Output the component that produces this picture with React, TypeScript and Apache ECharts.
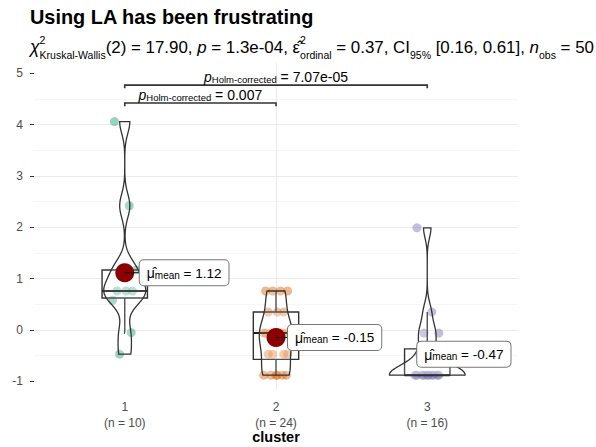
import React, { useEffect, useRef } from "react";
import * as echarts from "echarts";

// ---- data ----
const categories = ["1", "2", "3"];
const cluster1 = [4.06, 2.42, 1.17, 1.17, 0.76, 0.76, 0.76, 0.58, -0.05, -0.47];
const cluster2 = [
  0.76, 0.76, 0.76, 0.76,
  0.35, 0.35, 0.35,
  -0.06, -0.06, -0.06, -0.06, -0.06, -0.06, -0.06,
  -0.47, -0.47, -0.47, -0.47,
  -0.88, -0.88, -0.88, -0.88, -0.88, -0.88,
];
const cluster3 = [
  1.99, 0.35, -0.06, -0.06, -0.47, -0.47,
  -0.88, -0.88, -0.88, -0.88, -0.88, -0.88, -0.88, -0.88, -0.88, -0.88,
];
const groups = [cluster1, cluster2, cluster3];
const pointColors = ["#1B9E77", "#D95F02", "#7570B3"];
const yTicks = [-1, 0, 1, 2, 3, 4, 5];
const xTicks = [1, 2, 3];
const pairGroups = [[1, 3], [1, 2]];
const pairP = ["7.07e-05", "0.007"];
const pairY = [4.77, 4.42];

const titleText = "Using LA has been frustrating";
const xAxisTitle = "cluster";

// ---- stats helpers ----
const FONT = "Liberation Sans, Arial, sans-serif";
const q7 = (s: number[], p: number) => {
  const h = (s.length - 1) * p;
  const lo = Math.floor(h);
  const hi = Math.ceil(h);
  return s[lo] + (h - lo) * (s[hi] - s[lo]);
};
const meanOf = (a: number[]) => a.reduce((s, v) => s + v, 0) / a.length;
const sdOf = (a: number[]) => {
  const m = meanOf(a);
  return Math.sqrt(a.reduce((s, v) => s + (v - m) * (v - m), 0) / (a.length - 1));
};
const bwNrd0 = (a: number[]) => {
  const s = [...a].sort((x, y) => x - y);
  const hi = sdOf(a);
  const iqr = q7(s, 0.75) - q7(s, 0.25);
  let lo = Math.min(hi, iqr / 1.34);
  if (!lo) lo = hi || Math.abs(a[0]) || 1;
  return 0.9 * lo * Math.pow(a.length, -0.2);
};
const kde = (a: number[], bw: number, y: number) =>
  a.reduce((s, v) => s + Math.exp(-0.5 * ((y - v) / bw) ** 2), 0) /
  (a.length * bw * Math.sqrt(2 * Math.PI));

const stats = groups.map((vals) => {
  const s = [...vals].sort((a, b) => a - b);
  const q1 = q7(s, 0.25);
  const med = q7(s, 0.5);
  const q3 = q7(s, 0.75);
  const iqr = q3 - q1;
  const lowW = s.find((v) => v >= q1 - 1.5 * iqr) as number;
  const highW = [...s].reverse().find((v) => v <= q3 + 1.5 * iqr) as number;
  const bw = bwNrd0(vals);
  const ys: number[] = [];
  const ds: number[] = [];
  const N = 256;
  for (let k = 0; k < N; k++) {
    const y = s[0] + ((s[s.length - 1] - s[0]) * k) / (N - 1);
    ys.push(y);
    ds.push(kde(vals, bw, y));
  }
  return { q1, med, q3, lowW, highW, ys, ds, mean: meanOf(vals) };
});
const maxD = Math.max(...stats.flatMap((s) => s.ds));

const jitterPattern = [-0.8, 0.35, 0.9, -0.25, 0.6, -0.6, 0.1, -0.95, 0.5, -0.4, 0.8, 0.0];
const labelDx = [15, 12, -10];

const labelRich = {
  mu: { fontSize: 14, fontFamily: FONT, color: "#000" },
  sub: { fontSize: 10, fontFamily: FONT, color: "#000", verticalAlign: "bottom", lineHeight: 13 },
  t: { fontSize: 13.5, fontFamily: FONT, color: "#000" },
};
const pRich = {
  p: { fontSize: 14, fontFamily: FONT, fontStyle: "italic", color: "#000" },
  sub: { fontSize: 9.5, fontFamily: FONT, color: "#000", verticalAlign: "bottom", lineHeight: 12 },
  t: { fontSize: 14, fontFamily: FONT, color: "#000" },
};

const GRID = { left: 34, right: 78, top: 63, bottom: 56.9 };

export default function App() {
  const ref = useRef<HTMLDivElement>(null);
  useEffect(() => {
    if (!ref.current) return;
    const chart = echarts.init(ref.current, undefined, { renderer: "svg" });

    const pointSeries = groups.map((vals, gi) => ({
      type: "scatter",
      z: 1,
      symbolSize: 9,
      itemStyle: { color: pointColors[gi], opacity: 0.45 },
      data: vals.map((v, j) => [gi + 1 + jitterPattern[j % jitterPattern.length] * 0.085, v]),
      silent: true,
    }));

    const option: any = {
      animation: false,
      backgroundColor: "#fff",
      grid: { ...GRID, containLabel: false, outerBoundsMode: "none" },
      graphic: [
        {
          type: "text",
          left: 30,
          top: 7,
          style: { text: titleText, font: `bold 19.9px ${FONT}`, fill: "#000" },
        },
        {
          type: "text",
          left: 30,
          top: 34,
          style: {
            text:
              "{chi|χ}{sup|2}{sub|Kruskal-Wallis}{n|(2) = 17.90, }{it|p}{n| = 1.3e-04, }{eps|ε̂}{sup|2}{sub|ordinal}{n| = 0.37, CI}{sub|95%}{n| [0.16, 0.61], }{it|n}{sub|obs}{n| = 50}",
            rich: {
              n: { fontSize: 16.9, fontFamily: FONT, color: "#000", lineHeight: 26 },
              it: { fontSize: 16.9, fontFamily: FONT, fontStyle: "italic", color: "#000", lineHeight: 26 },
              chi: { fontSize: 17.5, fontFamily: FONT, fontStyle: "italic", color: "#000", lineHeight: 26 },
              eps: { fontSize: 16.9, fontFamily: FONT, color: "#000", lineHeight: 26 },
              sup: { fontSize: 10.5, fontFamily: FONT, color: "#000", verticalAlign: "top", lineHeight: 11, width: 0 },
              sub: { fontSize: 10.5, fontFamily: FONT, color: "#000", verticalAlign: "bottom", lineHeight: 13 },
            },
          },
        },
        {
          type: "text",
          x: GRID.left + (596 - GRID.left - GRID.right) / 2,
          y: 437,
          style: {
            text: xAxisTitle,
            font: `bold 14.5px ${FONT}`,
            fill: "#000",
            align: "center",
            verticalAlign: "middle",
          },
        },
      ],
      xAxis: {
        type: "value",
        min: 0.4,
        max: 3.6,
        minInterval: 1,
        maxInterval: 1,
        axisLine: { show: false },
        axisTick: { show: true, length: 4, customValues: xTicks, lineStyle: { color: "#333" } },
        axisLabel: {
          customValues: xTicks,
          margin: 9,
          fontSize: 12,
          lineHeight: 16,
          color: "#4D4D4D",
          fontFamily: FONT,
          formatter: (v: number) => `${categories[v - 1]}\n(n = ${groups[v - 1].length})`,
        },
        splitLine: { show: true, showMinLine: false, showMaxLine: false, lineStyle: { color: "#EBEBEB", width: 1 } },
      },
      yAxis: {
        type: "value",
        min: -1.17,
        max: 5.2,
        minInterval: 1,
        maxInterval: 1,
        axisLine: { show: false },
        axisTick: { show: true, length: 4, customValues: yTicks, lineStyle: { color: "#333" } },
        axisLabel: { customValues: yTicks, margin: 11, fontSize: 12, color: "#4D4D4D", fontFamily: FONT },
        splitLine: { show: true, showMinLine: false, showMaxLine: false, lineStyle: { color: "#EBEBEB", width: 1 } },
        minorTick: { show: false, splitNumber: 2 },
        minorSplitLine: { show: true, lineStyle: { color: "#F4F4F4", width: 0.8 } },
      },
      series: [
        ...pointSeries,
        {
          type: "custom",
          name: "box",
          z: 3,
          silent: true,
          data: stats.map((s, i) => [i + 1, s.med]),
          renderItem: (params: any, api: any) => {
            const i = params.dataIndex;
            const s = stats[i];
            const x = i + 1;
            const [xl, yq3] = api.coord([x - 0.15, s.q3]);
            const [xr, yq1] = api.coord([x + 0.15, s.q1]);
            const [xc, ym] = api.coord([x, s.med]);
            const yLo = api.coord([x, s.lowW])[1];
            const yHi = api.coord([x, s.highW])[1];
            const st = { stroke: "#333", lineWidth: 1.4, fill: "none" };
            return {
              type: "group",
              children: [
                { type: "line", shape: { x1: xc, y1: yq3, x2: xc, y2: yHi }, style: st },
                { type: "line", shape: { x1: xc, y1: yq1, x2: xc, y2: yLo }, style: st },
                { type: "rect", shape: { x: xl, y: yq3, width: xr - xl, height: yq1 - yq3 }, style: { ...st, fill: "rgba(255,255,255,0.2)" } },
                { type: "line", shape: { x1: xl, y1: ym, x2: xr, y2: ym }, style: { stroke: "#222", lineWidth: 2 } },
              ],
            };
          },
        },
        {
          type: "custom",
          name: "violin",
          z: 4,
          silent: true,
          data: stats.map((s, i) => [i + 1, s.med]),
          renderItem: (params: any, api: any) => {
            const i = params.dataIndex;
            const s = stats[i];
            const x = i + 1;
            const right = s.ys.map((y, k) => api.coord([x + (s.ds[k] / maxD) * 0.25, y]));
            const left = s.ys.map((y, k) => api.coord([x - (s.ds[k] / maxD) * 0.25, y])).reverse();
            return {
              type: "polygon",
              shape: { points: [...right, ...left] },
              style: { fill: "rgba(255,255,255,0.15)", stroke: "#333", lineWidth: 1.3 },
            };
          },
        },
        {
          type: "custom",
          name: "mean",
          z: 6,
          silent: true,
          data: stats.map((s, i) => [i + 1, s.mean]),
          renderItem: (params: any, api: any) => {
            const i = params.dataIndex;
            const s = stats[i];
            const [cx, cy] = api.coord([i + 1, s.mean]);
            const lx = cx + labelDx[i];
            return {
              type: "group",
              children: [
                { type: "circle", shape: { cx, cy, r: 9.5 }, style: { fill: "#8B0000" } },
                { type: "line", shape: { x1: cx, y1: cy, x2: lx, y2: cy }, style: { stroke: "#111", lineWidth: 1 } },
                {
                  type: "text",
                  x: lx,
                  y: cy,
                  style: {
                    text: `{mu|μ̂}{sub|mean}{t| = ${s.mean.toFixed(2)}}`,
                    rich: labelRich,
                    align: "left",
                    verticalAlign: "middle",
                    backgroundColor: "#fff",
                    borderColor: "#777",
                    borderWidth: 1,
                    borderRadius: 4,
                    padding: [6, 7, 5, 7],
                  },
                },
              ],
            };
          },
        },
        {
          type: "custom",
          name: "pairs",
          z: 7,
          silent: true,
          data: pairY.map((y, i) => [pairGroups[i][0], y]),
          renderItem: (params: any, api: any) => {
            const i = params.dataIndex;
            const [a, b] = pairGroups[i];
            const y = pairY[i];
            const p1 = api.coord([a, y]);
            const p2 = api.coord([b, y]);
            const tip = api.coord([a, y - 0.06])[1] - p1[1];
            return {
              type: "group",
              children: [
                {
                  type: "polyline",
                  shape: { points: [[p1[0], p1[1] + tip], p1, p2, [p2[0], p2[1] + tip]] },
                  style: { stroke: "#333", lineWidth: 1.6, fill: "none" },
                },
                {
                  type: "text",
                  x: (p1[0] + p2[0]) / 2,
                  y: p1[1] - 1,
                  style: {
                    text: `{p|p}{sub|Holm-corrected}{t| = ${pairP[i]}}`,
                    rich: pRich,
                    align: "center",
                    verticalAlign: "bottom",
                  },
                },
              ],
            };
          },
        },
      ],
    };
    chart.setOption(option);
    return () => chart.dispose();
  }, []);
  return <div ref={ref} style={{ width: 596, height: 447, position: "absolute", left: 0, top: 0 }} />;
}
